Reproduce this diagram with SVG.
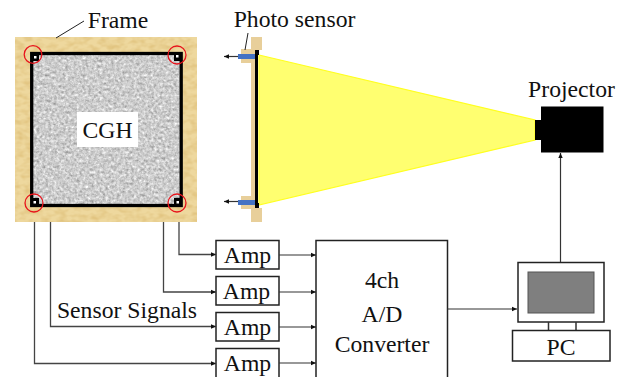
<svg xmlns="http://www.w3.org/2000/svg" width="624" height="377" viewBox="0 0 624 377">
<style>
text{font-family:"Liberation Serif","Times New Roman",serif;font-size:23.700px;fill:#111;text-anchor:middle}
.box{fill:#fff;stroke:#222;stroke-width:1.5}
.wire{fill:none;stroke:#444;stroke-width:1.3}
.arr{fill:none;stroke:#333;stroke-width:1.2;marker-end:url(#ah)}
.wood{fill:#eed89e}
.side{fill:#e8cf9a}
.ring{fill:none;stroke:#e8141c;stroke-width:1.3}
</style>
<defs>
<marker id="ah" markerUnits="userSpaceOnUse" markerWidth="6" markerHeight="6" refX="5" refY="3" orient="auto"><path d="M0 0.800L5 3L0 5.200z" fill="#111"/></marker>
<filter id="noise" x="0" y="0" width="100%" height="100%" color-interpolation-filters="sRGB"><feTurbulence type="fractalNoise" baseFrequency="0.35" numOctaves="3" seed="4"/><feColorMatrix type="matrix" values="0.26 0.26 0.26 0 0.41 0.26 0.26 0.26 0 0.41 0.26 0.26 0.26 0 0.41 0 0 0 0 1"/><feGaussianBlur stdDeviation="0.4"/></filter>
<filter id="grain" x="0" y="0" width="100%" height="100%" color-interpolation-filters="sRGB"><feTurbulence type="fractalNoise" baseFrequency="0.12 0.2" numOctaves="2" seed="9"/><feColorMatrix type="matrix" values="0 0 0 0 0.84 0 0 0 0 0.70 0 0 0 0 0.40 1.1 0 0 0 -0.4"/></filter>
</defs>
<g id="frame-front">
<rect class="wood" x="15" y="37" width="182" height="185"/>
<rect x="15" y="37" width="182" height="185" filter="url(#grain)"/>
<rect x="31" y="53" width="151" height="153" fill="#c8c8c8"/>
<rect x="31" y="53" width="151" height="153" filter="url(#noise)"/>
<rect x="31.700" y="53.500" width="149.500" height="152" fill="none" stroke="#000" stroke-width="3.300"/>
<rect x="77" y="112" width="61" height="35" fill="#fff"/>
<text x="107.500" y="138">CGH</text>
</g>
<g id="sensors-front">
<rect x="31" y="53" width="8" height="8" fill="#000"/><rect x="34" y="56" width="2.500" height="2.500" fill="#fff"/>
<rect x="174" y="53" width="8" height="8" fill="#000"/><rect x="176" y="55" width="2.500" height="2.500" fill="#fff"/>
<rect x="31" y="198" width="8" height="8" fill="#000"/><rect x="33.500" y="201" width="2.500" height="2.500" fill="#fff"/>
<rect x="174" y="198" width="8" height="8" fill="#000"/><rect x="176.500" y="201" width="2.500" height="2.500" fill="#fff"/>
<circle class="ring" cx="33" cy="54.500" r="8.800"/>
<circle class="ring" cx="177" cy="55" r="9"/>
<circle class="ring" cx="34" cy="203" r="9"/>
<circle class="ring" cx="177" cy="203" r="9"/>
</g>
<g id="label-frame"><text x="118" y="28">Frame</text></g>
<g id="frame-side">
<rect class="side" x="251" y="37" width="11" height="185"/>
<rect x="255" y="50" width="7" height="158" fill="#fff"/>
<rect class="side" x="241" y="49" width="14" height="14"/>
<rect class="side" x="241" y="196" width="14" height="13"/>
</g>
<g id="beam">
<polygon points="259,55 535,120 535,140 259,205" fill="#ffff70" stroke="#ffff20" stroke-width="1.200"/>
</g>
<g id="sensors-side">
<rect x="255" y="55" width="3" height="150" fill="#000"/>
<rect x="255" y="50" width="4" height="5" fill="#000"/>
<rect x="255" y="203" width="4" height="5" fill="#000"/>
<rect x="238" y="54" width="17" height="5" fill="#4472c4"/>
<rect x="238" y="200" width="17" height="5" fill="#4472c4"/>
</g>
<g id="label-sensor"><text x="294.500" y="27">Photo sensor</text></g>
<g id="projector">
<rect x="541" y="106.500" width="62.500" height="46" fill="#000"/>
<rect x="535" y="120" width="7" height="20" fill="#000"/>
<text x="571.500" y="97">Projector</text>
</g>
<g id="amp1"><rect class="box" x="216" y="240.500" width="63" height="28.500"/><text x="247.500" y="263">Amp</text></g>
<g id="amp2"><rect class="box" x="216" y="276.500" width="63" height="28.500"/><text x="246.500" y="298.500">Amp</text></g>
<g id="amp3"><rect class="box" x="216" y="312.500" width="63" height="28.500"/><text x="247.500" y="335">Amp</text></g>
<g id="amp4"><rect class="box" x="216" y="348.500" width="63" height="40"/><text x="247.500" y="371">Amp</text></g>
<g id="converter">
<rect class="box" x="316" y="240.500" width="131.500" height="150"/>
<text x="382" y="288">4ch</text>
<text x="382" y="322">A/D</text>
<text x="382" y="352">Converter</text>
</g>
<g id="pc">
<rect class="box" x="518" y="262.500" width="86" height="59.500"/>
<rect x="528" y="272" width="66" height="41" fill="#7f7f7f" stroke="#555" stroke-width="1"/>
<path d="M548.500 322V330M576 322V330" fill="none" stroke="#333" stroke-width="1.500"/>
<rect class="box" x="512.500" y="330.500" width="97.500" height="30.500"/>
<text x="561" y="355">PC</text>
</g>
<g id="label-signals"><text x="127" y="318">Sensor Signals</text></g>
<g id="connectors">
<path d="M84 21L56 38" fill="none" stroke="#222" stroke-width="1"/>
<path d="M248 33L245 50" fill="none" stroke="#222" stroke-width="1"/>
<path class="arr" d="M238 56.500H224"/>
<path class="arr" d="M238 201.500H224"/>
<path class="wire" d="M179 222V254.500H216" marker-end="url(#ah)"/>
<path class="wire" d="M163.500 222V292H216" marker-end="url(#ah)"/>
<path class="wire" d="M50.500 222V326.500H216" marker-end="url(#ah)"/>
<path class="wire" d="M34.500 222V363.500H216" marker-end="url(#ah)"/>
<path class="arr" d="M279 255H316"/>
<path class="arr" d="M279 292H316"/>
<path class="arr" d="M279 327H316"/>
<path class="arr" d="M279 363H316"/>
<path class="arr" d="M447.500 309H517"/>
<path class="arr" d="M560.500 262V153"/>
</g>
</svg>
